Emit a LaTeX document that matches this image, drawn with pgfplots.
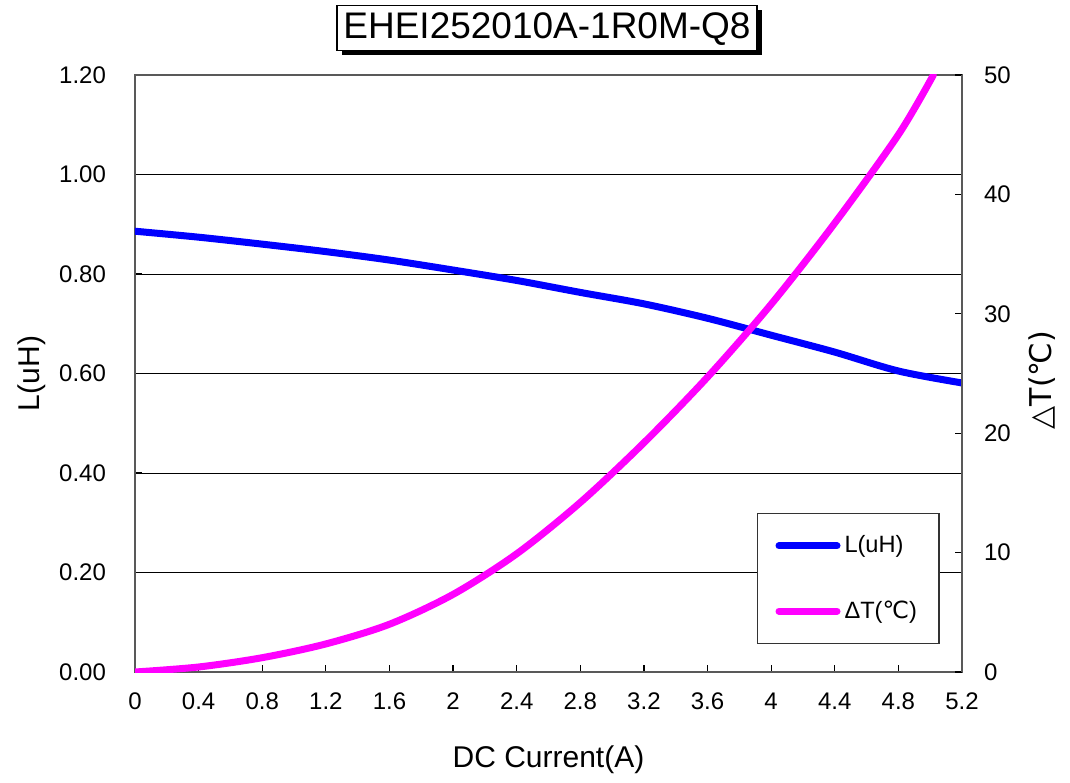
\documentclass[border=0pt]{standalone}
\usepackage{fontspec}
\setmainfont{Liberation Sans}
\newfontfamily\dejavu{DejaVu Sans}
\usepackage{pgfplots}
\usepackage{pgfplotstable}
\pgfplotsset{compat=1.18}
\usetikzlibrary{shadows}

\definecolor{lblue}{RGB}{0,0,255}
\definecolor{tmag}{RGB}{255,0,255}

% inductance vs current
\pgfplotstableread{
x    L
0    0.886
0.4  0.874
0.8  0.860
1.2  0.845
1.6  0.828
2.0  0.808
2.4  0.787
2.8  0.763
3.2  0.740
3.6  0.711
4.0  0.677
4.4  0.643
4.8  0.605
5.2  0.581
}\Ldata

% temperature rise vs current
\pgfplotstableread{
x    T
0    0
0.4  0.42
0.8  1.2
1.2  2.35
1.6  4.0
2.0  6.5
2.4  9.9
2.8  14.2
3.2  19.2
3.6  24.7
4.0  30.8
4.4  37.6
4.8  45.0
5.02 50
}\Tdata

\pgfplotsset{
  base/.style={
    scale only axis, width=413.5pt, height=298.5pt,
    xmin=0, xmax=5.2,
    tick align=inside, major tick length=3.5pt,
    /pgf/number format/assume math mode=true,
    tick label style={font=\fontsize{12}{14}\selectfont},
    axis line style={draw=black!65, line width=1pt},
    every tick/.style={black, line width=0.6pt},
  },
}

\begin{document}
\begin{tikzpicture}
\begin{axis}[base, name=main,
  ymin=0, ymax=1.2,
  xtick={0,0.4,0.8,1.2,1.6,2,2.4,2.8,3.2,3.6,4,4.4,4.8,5.2},
  ytick={0,0.2,0.4,0.6,0.8,1.0,1.2},
  xtick pos=left, ytick pos=left,
  xticklabel style={/pgf/number format/fixed, /pgf/number format/precision=1, yshift=-7pt},
  yticklabel style={/pgf/number format/fixed, /pgf/number format/fixed zerofill,
    /pgf/number format/precision=2, xshift=-11pt},
  ymajorgrids, grid style={black, line width=0.5pt},
  xlabel={DC Current(A)}, ylabel={L(uH)},
  every axis x label/.style={at={(axis description cs:0.5,-0.147)}, anchor=center,
    font=\fontsize{15}{18}\selectfont},
  every axis y label/.style={at={(axis description cs:-0.1245,0.5)}, anchor=center, rotate=90,
    font=\fontsize{15}{18}\selectfont},
]
\addplot[lblue, line width=3.5pt, smooth, line cap=round] table[x=x, y=L] {\Ldata};
\end{axis}
\begin{axis}[base,
  ymin=0, ymax=50,
  ytick={0,10,20,30,40,50},
  axis y line*=right, axis x line=none,
  yticklabel style={xshift=7.5pt},
  ylabel={△T(℃)},
  every axis y label/.style={at={(axis description cs:1.0967,0.489)}, anchor=center, rotate=90,
    font=\dejavu\fontsize{15}{18}\selectfont},
  legend style={at={(0.752,0.266)}, anchor=north west, draw=black!80, fill=white,
    line width=0.6pt, inner xsep=9pt, inner ysep=9pt, row sep=18.5pt,
    nodes={inner sep=2pt}, font=\fontsize{11.8}{13}\selectfont},
  legend cell align=left,
  legend image code/.code={\draw[#1, line cap=round] (0pt,0pt) -- (29pt,0pt);},
]
\addlegendimage{lblue, line width=3.5pt}
\addlegendentry{L(uH)}
\addplot[tmag, line width=3.5pt, smooth, line cap=round] table[x=x, y=T] {\Tdata};
\addlegendentry{ΔT({\dejavu ℃})}
\end{axis}
\node[draw=black, fill=white, line width=0.8pt, minimum width=210pt, minimum height=22.5pt,
  inner sep=0pt, text height=13.5pt, text depth=3pt,
  drop shadow={shadow xshift=2.5pt, shadow yshift=-2.5pt, fill=black, opacity=1},
  font=\fontsize{18.5}{22}\selectfont] at ([xshift=-0.75pt, yshift=23.5pt]main.north) {EHEI252010A-1R0M-Q8};
\pgfresetboundingbox
\path[use as bounding box] ([shift={(-67.5pt,-55pt)}]main.south west) rectangle ([shift={(54pt,37.5pt)}]main.north east);
\end{tikzpicture}
\end{document}
